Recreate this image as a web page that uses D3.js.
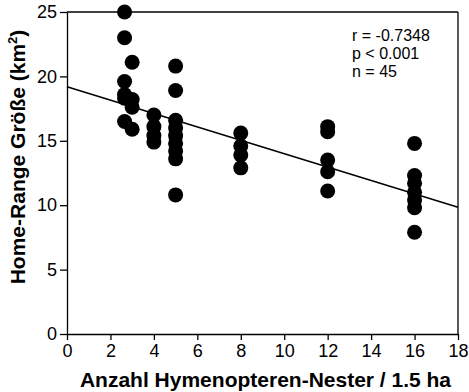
<!DOCTYPE html>
<html>
<head>
<meta charset="utf-8">
<script src="https://cdn.jsdelivr.net/npm/d3@7"></script>
<style>
  body { margin: 0; background: #fff; }
  text { font-family: "Liberation Sans", Arial, sans-serif; fill: #000; }
</style>
</head>
<body>
<div id="chart"></div>
<script>
// Nester pro 1.5 ha (x) und Home-Range Größe in km² (y)
const nestCounts = [
  2.65, 2.65, 2.65, 2.65, 2.65, 2.65,
  3, 3, 3, 3,
  4, 4, 4, 4,
  5, 5, 5, 5, 5, 5, 5, 5, 5,
  8, 8, 8, 8,
  12, 12, 12, 12, 12,
  16, 16, 16, 16, 16, 16, 16
];
const rangeSizes = [
  25.0, 23.0, 19.6, 18.6, 18.3, 16.5,
  21.1, 18.2, 17.6, 15.9,
  17.0, 16.1, 15.4, 14.9,
  20.8, 18.9, 16.6, 16.0, 15.4, 14.8, 14.2, 13.6, 10.8,
  15.6, 14.6, 13.9, 12.9,
  16.1, 15.7, 13.5, 12.6, 11.1,
  14.8, 12.3, 11.7, 11.0, 10.4, 9.8, 7.9
];
const xTicks = [0, 2, 4, 6, 8, 10, 12, 14, 16, 18];
const yTicks = [0, 5, 10, 15, 20, 25];
// Regressionsgerade: Achsenabschnitt, Steigung
const regression = [19.2, -0.52];
const statsLines = ['r = -0.7348', 'p < 0.001', 'n = 45'];

const width = 469, height = 392;
const margin = { top: 12, right: 11, bottom: 58, left: 67 };
const innerW = width - margin.left - margin.right;
const innerH = height - margin.top - margin.bottom;

const svg = d3.select('#chart').append('svg')
  .attr('width', width)
  .attr('height', height);

const g = svg.append('g')
  .attr('transform', `translate(${margin.left},${margin.top})`);

const x = d3.scaleLinear().domain([0, 18]).range([0, innerW]);
const y = d3.scaleLinear().domain([0, 25]).range([innerH, 0]);

// Rahmen oben und rechts
g.append('line')
  .attr('x1', 0).attr('x2', innerW).attr('y1', 0).attr('y2', 0)
  .attr('stroke', '#000').attr('stroke-width', 1.3);
g.append('line')
  .attr('x1', innerW).attr('x2', innerW).attr('y1', 0).attr('y2', innerH)
  .attr('stroke', '#000').attr('stroke-width', 1.3);

const xAxis = g.append('g')
  .attr('transform', `translate(0,${innerH})`)
  .call(d3.axisBottom(x).tickValues(xTicks).tickSize(6).tickPadding(4).tickSizeOuter(0));
const yAxis = g.append('g')
  .call(d3.axisLeft(y).tickValues(yTicks).tickSize(7).tickPadding(3).tickSizeOuter(0));

[xAxis, yAxis].forEach(a => {
  a.select('.domain').attr('stroke-width', 1.3);
  a.selectAll('.tick line').attr('stroke-width', 1.3);
  a.selectAll('text')
    .style('font-family', '"Liberation Sans", Arial, sans-serif')
    .style('font-size', '18px');
});

// Regressionsgerade
g.append('line')
  .attr('x1', x(0)).attr('y1', y(regression[0]))
  .attr('x2', x(18)).attr('y2', y(regression[0] + regression[1] * 18))
  .attr('stroke', '#000')
  .attr('stroke-width', 1.5);

// Punkte
g.selectAll('circle')
  .data(nestCounts.map((d, i) => ({ n: d, s: rangeSizes[i] })))
  .enter()
  .append('circle')
  .attr('cx', d => x(d.n))
  .attr('cy', d => y(d.s))
  .attr('r', 7.5)
  .attr('fill', '#000');

// Statistik
g.selectAll('.stat')
  .data(statsLines)
  .enter()
  .append('text')
  .attr('class', 'stat')
  .attr('x', 285)
  .attr('y', (d, i) => 29 + i * 18)
  .style('font-size', '16px')
  .text(d => d);

// Achsentitel
svg.append('text')
  .attr('x', margin.left + innerW / 2 + 3)
  .attr('y', 387)
  .attr('text-anchor', 'middle')
  .style('font-size', '21px')
  .style('font-weight', 'bold')
  .text('Anzahl Hymenopteren-Nester / 1.5 ha');

svg.append('text')
  .attr('transform', `translate(25,${margin.top + 145}) rotate(-90)`)
  .attr('text-anchor', 'middle')
  .style('font-size', '21px')
  .style('font-weight', 'bold')
  .html('Home-Range Größe (km<tspan dy="-8" font-size="13">2</tspan><tspan dy="8">)</tspan>');
</script>
</body>
</html>
